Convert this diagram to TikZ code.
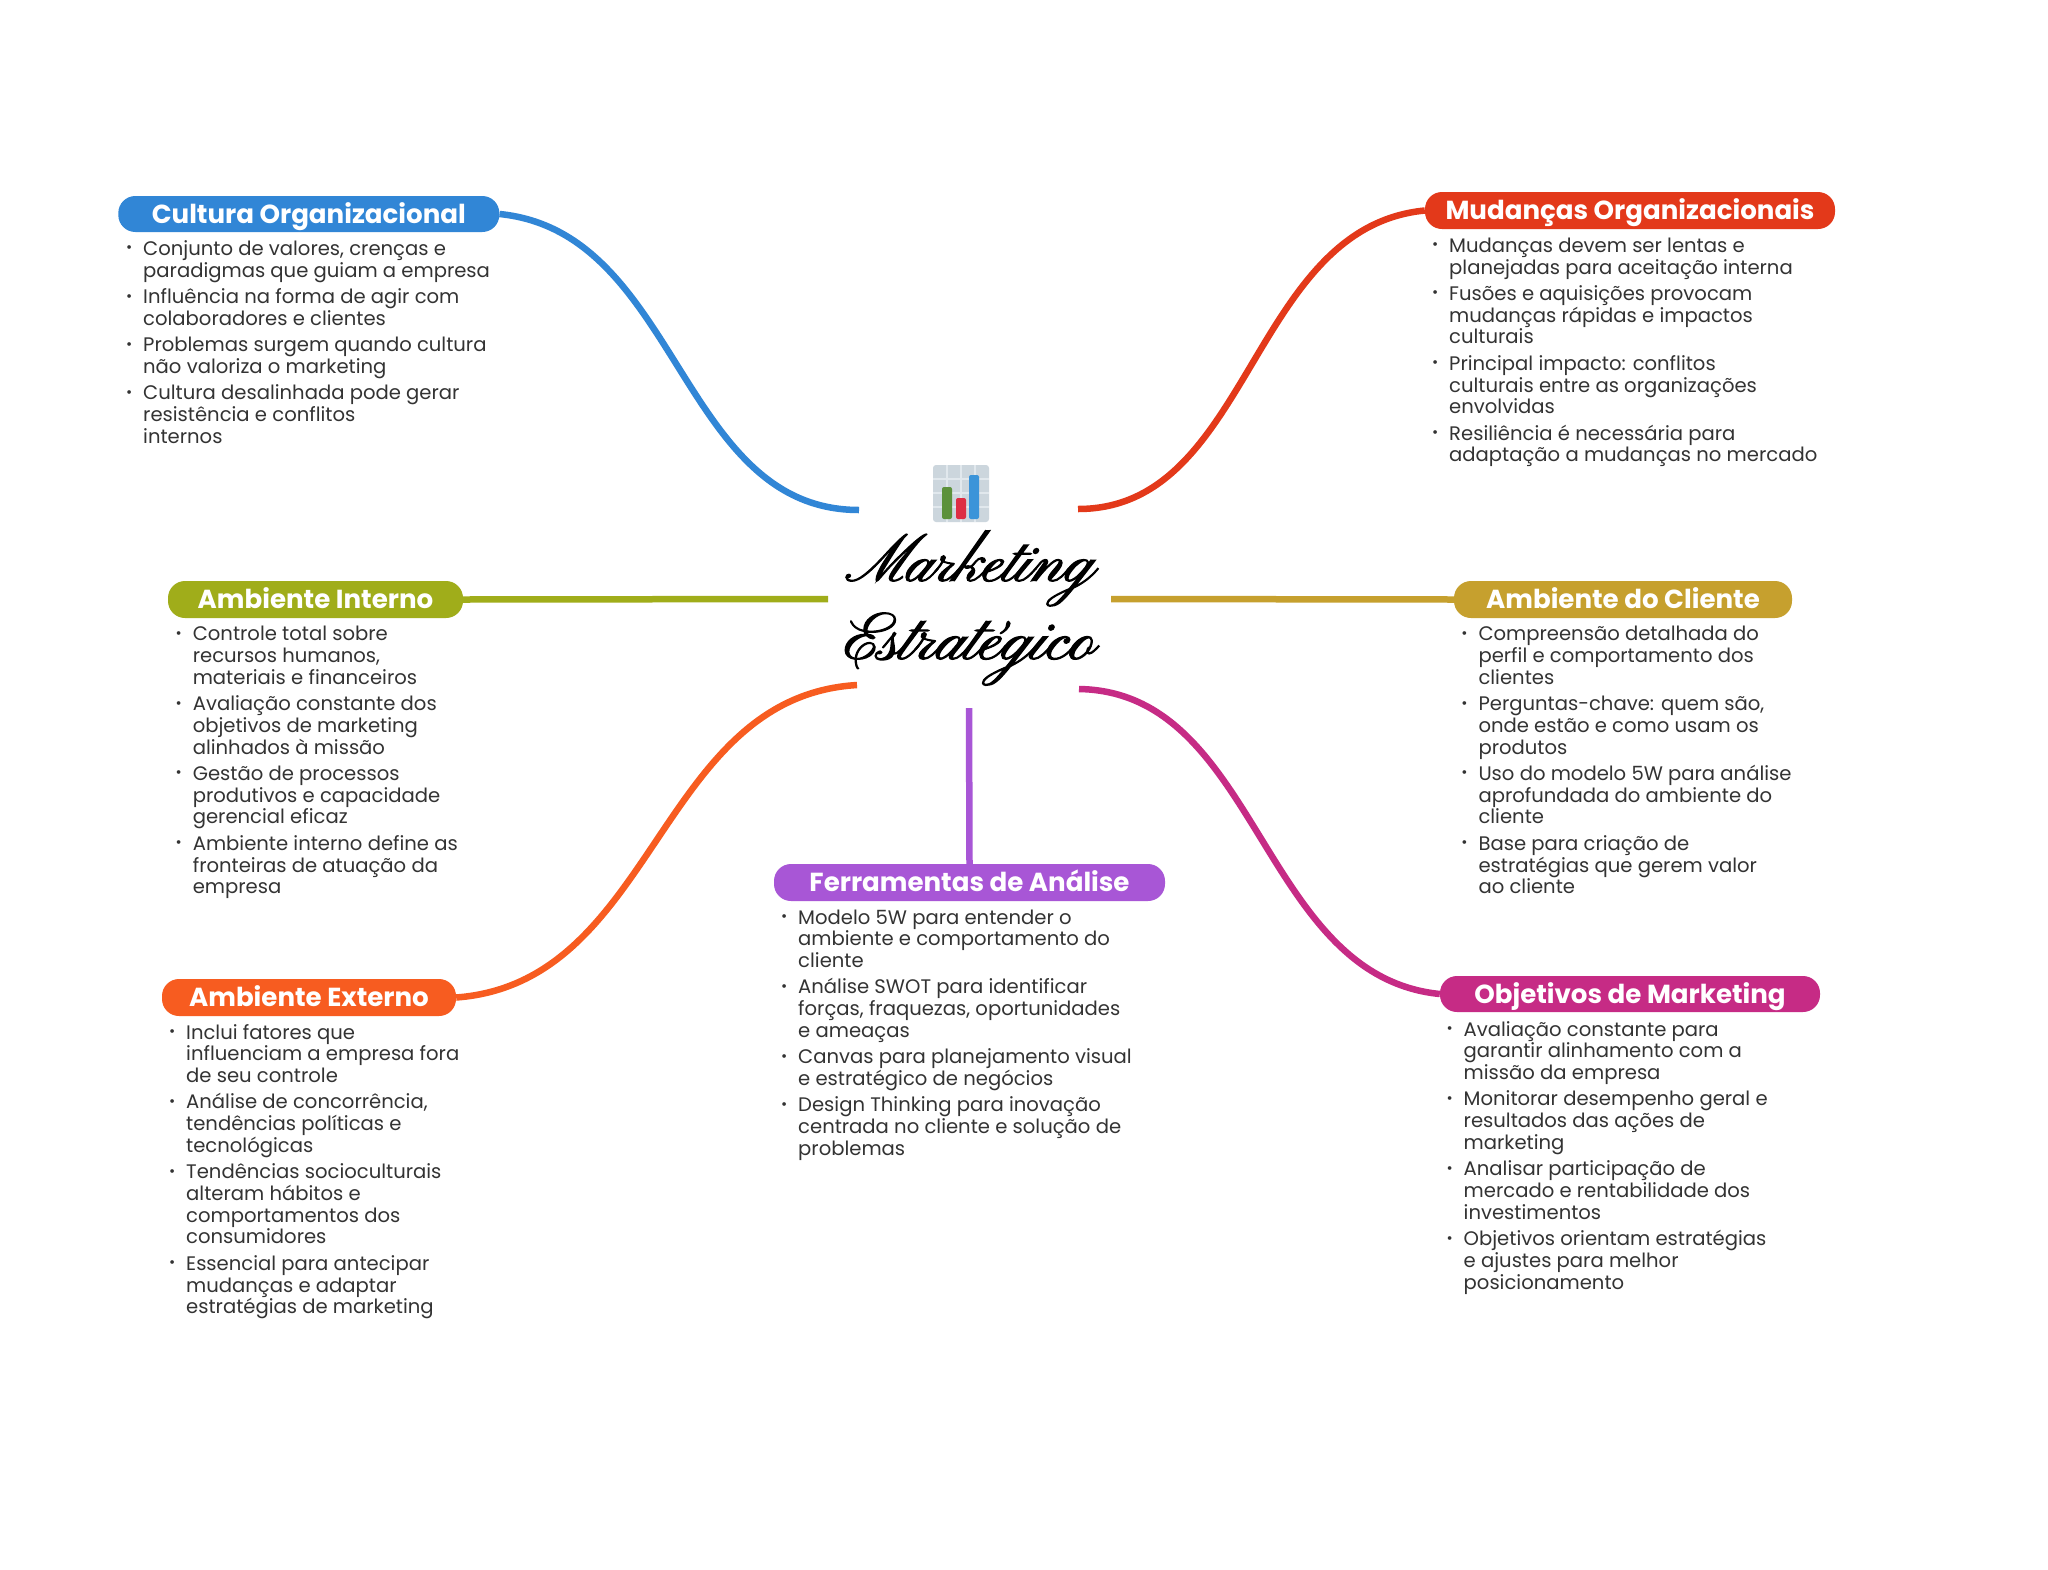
\documentclass[tikz,border=0pt]{standalone}
\usepackage{fontspec}
\setmainfont{Poppins}
\newfontfamily\bodyf{Poppins}
\newfontfamily\headf{Poppins}[UprightFont=* Bold]
\newfontfamily\scriptf{Pinyon Script}[FakeBold=2]
\definecolor{cblue}{HTML}{3186D6}
\definecolor{cred}{HTML}{E3391A}
\definecolor{colive}{HTML}{A0AD1A}
\definecolor{cgold}{HTML}{C6A02E}
\definecolor{corange}{HTML}{F75C20}
\definecolor{cmag}{HTML}{C62B85}
\definecolor{cpur}{HTML}{A856D6}
\definecolor{ctxt}{HTML}{333333}
\definecolor{cgrid}{HTML}{CCD6DD}
\definecolor{cline}{HTML}{E1E8ED}
\definecolor{cbarg}{HTML}{5C913B}
\definecolor{cbarr}{HTML}{DD2E44}
\definecolor{cbarb}{HTML}{3B94D9}
\newcommand{\bul}{\leavevmode\llap{\raisebox{2.5pt}{\fontsize{15}{15}\selectfont•}\hspace{11pt}}}
\newcommand{\lst}[1]{\parbox[t]{420pt}{\fontsize{19.6}{21.75}\selectfont\bodyf\raggedright #1}}
\newcommand{\gap}{\\[4.6pt]}
\tikzset{
 x=1pt,y=-1pt,
 topic/.style={fill=#1,text=white,rounded corners=17pt,inner sep=0pt,text height=21pt,text depth=2.6pt,font=\headf\fontsize{26.1}{30}\selectfont,anchor=center},
 conn/.style={draw=#1,line width=6.5pt,line cap=butt},
 body/.style={anchor=base west,inner sep=0pt,text=ctxt},
 bar/.style={fill=#1,rounded corners=2pt},
}
\begin{document}
\begin{tikzpicture}
\useasboundingbox (0,0) rectangle (2048,1569);
\fill[white] (0,0) rectangle (2048,1569);
% free ends at the centre
\coordinate (ecult) at (859,510);
\coordinate (emud) at (1078,509);
\coordinate (eint) at (828,599);
\coordinate (ecli) at (1111,599);
\coordinate (eext) at (857,685);
\coordinate (eobj) at (1079,689);
\coordinate (efer) at (969,708);
% topic nodes
\node[topic=cblue,minimum width=381pt,minimum height=36pt] (cult) at (308.8,214) {Cultura Organizacional};
\node[topic=cred,minimum width=410pt,minimum height=37pt] (mud) at (1630,210.5) {Mudanças Organizacionais};
\node[topic=colive,minimum width=295pt,minimum height=37pt] (int) at (315.5,599.5) {Ambiente Interno};
\node[topic=cgold,minimum width=338pt,minimum height=37pt] (cli) at (1623,599.5) {Ambiente do Cliente};
\node[topic=corange,minimum width=294pt,minimum height=37pt] (ext) at (309,997.5) {Ambiente Externo};
\node[topic=cmag,minimum width=380pt,minimum height=36pt] (obj) at (1630,994) {Objetivos de Marketing};
\node[topic=cpur,minimum width=391pt,minimum height=37pt] (fer) at (969.5,882.5) {Ferramentas de Análise};
% connectors
\draw[conn=cblue] (cult.east) .. controls +(180,18) and +(-180,0) .. (ecult);
\draw[conn=cred] (mud.west) .. controls +(-175,17) and +(173,0) .. (emud);
\draw[conn=colive] (int.east) -- (eint);
\draw[conn=cgold] (cli.west) -- (ecli);
\draw[conn=corange] (ext.east) .. controls +(200,-15) and +(-200,12) .. (eext);
\draw[conn=cmag] (obj.west) .. controls +(-180,-18) and +(180,3) .. (eobj);
\draw[conn=cpur] (fer.north) -- (efer);
% centre
\node[inner sep=0pt,align=center,text=black,font=\scriptf\fontsize{65}{78}\selectfont] (centre) at (970,608) {Marketing\\{\fontsize{68}{78}\selectfont Estratégico}};
% icon
\fill[fill=cgrid,rounded corners=3pt] (933,465) rectangle (989,522);
\foreach \gx in {947,961,975} \draw[cline,line width=2pt] (\gx,465) -- (\gx,522);
\foreach \gy in {479,493,507} \draw[cline,line width=2pt] (933,\gy) -- (989,\gy);
\fill[bar=cbarg] (942,519) rectangle (952,487);
\fill[bar=cbarr] (956,519) rectangle (966,498);
\fill[bar=cbarb] (969,519) rectangle (979,475);
% bodies
\node[body] (bcult) at (143,255.4) {\lst{\bul Conjunto de valores, crenças e\\paradigmas que guiam a empresa\gap
\bul Influência na forma de agir com\\colaboradores e clientes\gap
\bul Problemas surgem quando cultura\\não valoriza o marketing\gap
\bul Cultura desalinhada pode gerar\\resistência e conflitos\\internos}};
\node[body] (bmud) at (1449,252.3) {\lst{\bul Mudanças devem ser lentas e\\planejadas para aceitação interna\gap
\bul Fusões e aquisições provocam\\mudanças rápidas e impactos\\culturais\gap
\bul Principal impacto: conflitos\\culturais entre as organizações\\envolvidas\gap
\bul Resiliência é necessária para\\adaptação a mudanças no mercado}};
\node[body] (bint) at (192.6,640.7) {\lst{\bul Controle total sobre\\recursos humanos,\\materiais e financeiros\gap
\bul Avaliação constante dos\\objetivos de marketing\\alinhados à missão\gap
\bul Gestão de processos\\produtivos e capacidade\\gerencial eficaz\gap
\bul Ambiente interno define as\\fronteiras de atuação da\\empresa}};
\node[body] (bcli) at (1478.3,640.7) {\lst{\bul Compreensão detalhada do\\perfil e comportamento dos\\clientes\gap
\bul Perguntas-chave: quem são,\\onde estão e como usam os\\produtos\gap
\bul Uso do modelo 5W para análise\\aprofundada do ambiente do\\cliente\gap
\bul Base para criação de\\estratégias que gerem valor\\ao cliente}};
\node[body] (bext) at (186,1039) {\lst{\bul Inclui fatores que\\influenciam a empresa fora\\de seu controle\gap
\bul Análise de concorrência,\\tendências políticas e\\tecnológicas\gap
\bul Tendências socioculturais\\alteram hábitos e\\comportamentos dos\\consumidores\gap
\bul Essencial para antecipar\\mudanças e adaptar\\estratégias de marketing}};
\node[body] (bfer) at (798,924) {\lst{\bul Modelo 5W para entender o\\ambiente e comportamento do\\cliente\gap
\bul Análise SWOT para identificar\\forças, fraquezas, oportunidades\\e ameaças\gap
\bul Canvas para planejamento visual\\e estratégico de negócios\gap
\bul Design Thinking para inovação\\centrada no cliente e solução de\\problemas}};
\node[body] (bobj) at (1463.5,1036) {\lst{\bul Avaliação constante para\\garantir alinhamento com a\\missão da empresa\gap
\bul Monitorar desempenho geral e\\resultados das ações de\\marketing\gap
\bul Analisar participação de\\mercado e rentabilidade dos\\investimentos\gap
\bul Objetivos orientam estratégias\\e ajustes para melhor\\posicionamento}};
\end{tikzpicture}
\end{document}
